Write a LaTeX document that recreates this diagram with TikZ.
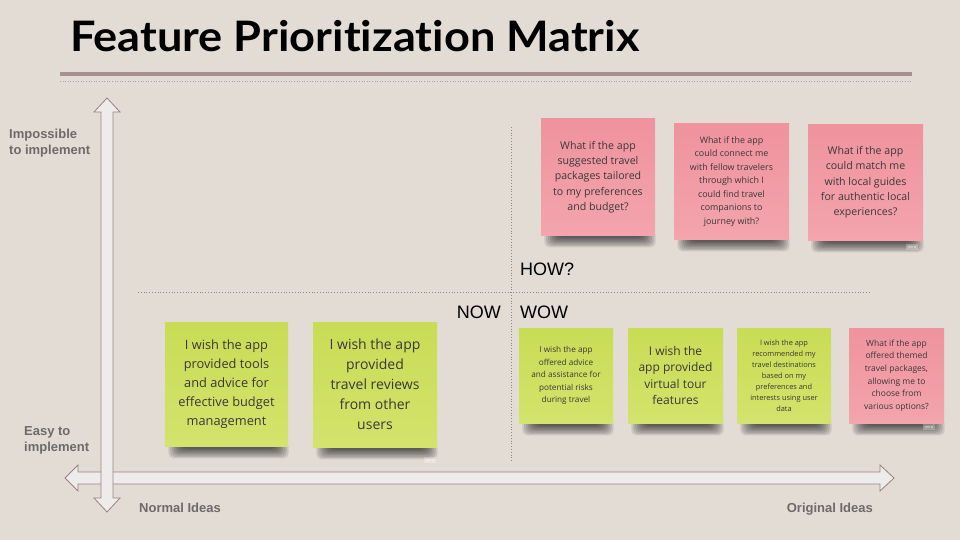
\documentclass[tikz,border=0pt]{standalone}
\usepackage{fontspec}
\setmainfont{Open Sans}
\newfontfamily\titlefont[FakeStretch=1.075,Ligatures=NoCommon]{Lato}
\newfontfamily\axisfont{Liberation Sans}
\definecolor{bg}{HTML}{E3DCD5}
\definecolor{rule}{HTML}{A88F90}
\definecolor{arrowline}{HTML}{9C7F80}
\definecolor{arrowfill}{HTML}{EEECEB}
\definecolor{axistext}{HTML}{6E6A69}
\definecolor{notetext}{HTML}{3A3838}
\definecolor{pinkT}{HTML}{EF939E}
\definecolor{pinkB}{HTML}{F3A4AD}
\definecolor{greenT}{HTML}{C9DC55}
\definecolor{greenB}{HTML}{D3E36C}
\tikzset{
  pinknote/.style={top color=pinkT, bottom color=pinkB},
  greennote/.style={top color=greenT, bottom color=greenB},
  notebox/.style={inner sep=0pt, align=center, text=notetext},
  axislabel/.style={font=\axisfont\bfseries\fontsize{13}{16}\selectfont, text=axistext, inner sep=0pt},
  quadlabel/.style={font=\axisfont\fontsize{18}{20}\selectfont, text=black, inner sep=0pt},
  guide/.style={draw=black!45, dotted, line width=0.8pt},
  axisarrow/.style={draw=arrowline, fill=arrowfill, line width=0.8pt, line join=miter},
  watermark/.style={font=\fontsize{4}{5}\selectfont, text=white!85!bg, fill=white, fill opacity=0.25, text opacity=1, inner sep=1.5pt}
}
% name, x1, y1, x2, y2, style, font, text
\newcommand{\stickynote}[8]{%
  \foreach \i in {0,...,7}{%
    \fill[black, opacity=0.1, rounded corners=5pt]
      ({#2+16-1.8*\i},{#5-4}) rectangle ({#4-12+1.8*\i},{#5+2.5+1.4*\i});
  }
  \node[notebox, #6, minimum width={(#4-#2)*1pt}, minimum height={(#5-#3)*1pt},
        font=#7] (#1) at ({(#2+#4)/2},{(#3+#5)/2}) {#8};
}
\begin{document}
\begin{tikzpicture}[x=1pt, y=-1pt]
\useasboundingbox (0,0) rectangle (960,540);
\fill[bg] (0,0) rectangle (960,540);

% title and rules
\node[anchor=base west, inner sep=0pt, font=\titlefont\bfseries\fontsize{42}{46}\selectfont] (title) at (70,52) {Feature Prioritization Matrix};
\coordinate (ruleL) at (60,74);
\coordinate (ruleR) at (912,74);
\draw[rule, line width=4.5pt] (ruleL) -- (ruleR);
\coordinate (dotL) at (60,81);
\coordinate (dotR) at (912,81);
\draw[black!35, dotted, line width=0.6pt] (dotL) -- (dotR);

% quadrant guides
\coordinate (vTop) at (511,127);
\coordinate (vBot) at (511,462);
\draw[guide] (vTop) -- (vBot);
\coordinate (hL) at (138,292);
\coordinate (hR) at (870,292);
\draw[guide] (hL) -- (hR);

% horizontal axis
\draw[axisarrow] (65,478) -- (78,465) -- (78,472) -- (880,472) -- (880,465) -- (894,478)
  -- (880,491) -- (880,484) -- (78,484) -- (78,491) -- cycle;
% vertical axis
\draw[axisarrow] (107,98) -- (120,112) -- (113,112) -- (113,498) -- (120,498) -- (107,512)
  -- (94,498) -- (101,498) -- (101,112) -- (94,112) -- cycle;

% axis labels
\node[axislabel, anchor=base west, align=left] (impossible) at (9,155) {Impossible\\to implement};
\node[axislabel, anchor=base west, align=left] (easy) at (24,451) {Easy to\\implement};
\node[axislabel, anchor=base west] (normal) at (139,512) {Normal Ideas};
\node[axislabel, anchor=base east] (original) at (873,512) {Original Ideas};

% quadrant labels
\node[quadlabel, anchor=base west] (how) at (520,275) {HOW?};
\node[quadlabel, anchor=base east] (now) at (501,318) {NOW};
\node[quadlabel, anchor=base west] (wow) at (520,318) {WOW};

% sticky notes - top row
\stickynote{n1}{541}{119}{655}{235}{pinknote}{\fontsize{10.6}{15.3}\selectfont}
  {What if the app\\suggested travel\\packages tailored\\to my preferences\\and budget?}
\stickynote{n2}{674}{124}{789}{239}{pinknote}{\fontsize{8.9}{13.5}\selectfont}
  {What if the app\\could connect me\\with fellow travelers\\through which I\\could find travel\\companions to\\journey with?}
\stickynote{n3}{808}{125}{923}{240}{pinknote}{\fontsize{10.6}{15.3}\selectfont}
  {What if the app\\could match me\\with local guides\\for authentic local\\experiences?}

% bottom left
\stickynote{n4}{165}{322}{288}{446}{greennote}{\fontsize{12.8}{19}\selectfont}
  {I wish the app\\provided tools\\and advice for\\effective budget\\management}
\stickynote{n5}{313}{322}{437}{447}{greennote}{\fontsize{14}{20}\selectfont}
  {I wish the app\\provided\\travel reviews\\from other\\users}

% bottom right
\stickynote{n6}{519}{328}{613}{423}{greennote}{\fontsize{8.2}{12.4}\selectfont}
  {I wish the app\\offered advice\\and assistance for\\potential risks\\during travel}
\stickynote{n7}{628}{328}{723}{423}{greennote}{\fontsize{12}{16.3}\selectfont}
  {I wish the\\app provided\\virtual tour\\features}
\stickynote{n8}{737}{328}{831}{423}{greennote}{\fontsize{7.4}{11}\selectfont}
  {I wish the app\\recommended my\\travel destinations\\based on my\\preferences and\\interests using user\\data}
\stickynote{n9}{849}{328}{944}{423}{pinknote}{\fontsize{8.5}{12.6}\selectfont}
  {What if the app\\offered themed\\travel packages,\\allowing me to\\choose from\\various options?}

% watermarks
\node[watermark] (wm1) at (912,247) {miro};
\node[watermark] (wm2) at (430,460) {miro};
\node[watermark] (wm3) at (929,427) {miro};
\end{tikzpicture}
\end{document}
